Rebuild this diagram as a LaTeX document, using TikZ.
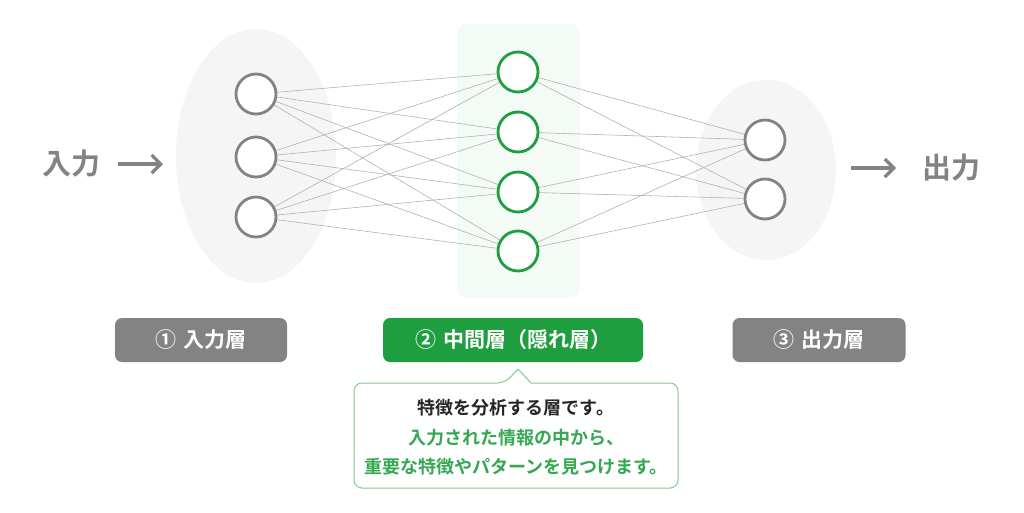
\documentclass[tikz,border=0pt]{standalone}
\usepackage{fontspec}
\setmainfont{Noto Sans CJK JP}
\newfontfamily\cjkb{Noto Sans CJK JP Bold}
\usetikzlibrary{shapes.geometric,arrows.meta}
\definecolor{gn}{HTML}{1E9E3E}
\definecolor{gr}{HTML}{838383}
\begin{document}
\begin{tikzpicture}[x=1pt,y=-1pt,
  inn/.style={circle,draw=gr,line width=2.8pt,fill=white,minimum size=40pt,inner sep=0},
  hid/.style={circle,draw=gn,line width=2.8pt,fill=white,minimum size=40pt,inner sep=0},
  lbl/.style={rounded corners=7pt,minimum height=44pt,text=white,font=\cjkb\fontsize{21}{24}\selectfont},
  edge/.style={draw=black!32,line width=0.55pt},
  arr/.style={gr,line width=3.2pt,-{Straight Barb[length=9pt,width=18pt,line width=3.2pt]}},
  captext/.style={font=\cjkb\fontsize{18}{21}\selectfont}]
\useasboundingbox (0,0) rectangle (1024,512);
\fill[white] (0,0) rectangle (1024,512);
\fill[black!4] (256,156) ellipse [x radius=80,y radius=127];
\fill[black!4] (766,170) ellipse [x radius=70,y radius=90];
\fill[gn!5,rounded corners=10pt] (457,24) rectangle (580,298);
\foreach \i/\y in {1/94,2/157,3/217} \coordinate (i\i) at (256,\y);
\foreach \i/\y in {1/72,2/132,3/192,4/251} \coordinate (h\i) at (518,\y);
\foreach \i/\y in {1/140,2/199} \coordinate (o\i) at (765,\y);
\foreach \a in {1,2,3} \foreach \b in {1,2,3,4} \draw[edge] (i\a) -- (h\b);
\foreach \a in {1,2,3,4} \foreach \b in {1,2} \draw[edge] (h\a) -- (o\b);
\foreach \i in {1,2,3} \node[inn] (I\i) at (i\i) {};
\foreach \i in {1,2,3,4} \node[hid] (H\i) at (h\i) {};
\foreach \i in {1,2} \node[inn] (O\i) at (o\i) {};
\node[text=gr,font=\cjkb\fontsize{29}{32}\selectfont] (tin) at (71,164) {入力};
\coordinate (a1) at (118,164); \coordinate (a2) at (163,164);
\draw[arr] (a1) -- (a2);
\coordinate (b1) at (851,168); \coordinate (b2) at (896,168);
\draw[arr] (b1) -- (b2);
\node[text=gr,font=\cjkb\fontsize{29}{32}\selectfont] (tout) at (951,168) {出力};
\node[lbl,fill=gr,minimum width=172pt] (L1) at (201,340) {①\,\,入力層};
\node[lbl,fill=gn,minimum width=260pt] (L2) at (513,340) {②\,\,中間層（隠れ層）};
\node[lbl,fill=gr,minimum width=173pt] (L3) at (819,340) {③\,\,出力層};
\draw[gn!55,line width=1pt,fill=white,rounded corners=8pt]
  (354,383) -- (505,383) [sharp corners] -- (518,369) -- (531,383) [rounded corners=8pt] -- (678,383) -- (678,488) -- (354,488) -- cycle;
\node[captext,text=black!85] (t1) at (516,408) {特徴を分析する層です。};
\node[captext,text=gn!90] (t2) at (516,438) {入力された情報の中から、};
\node[captext,text=gn!90] (t3) at (516,467) {重要な特徴やパターンを見つけます。};
\end{tikzpicture}
\end{document}
